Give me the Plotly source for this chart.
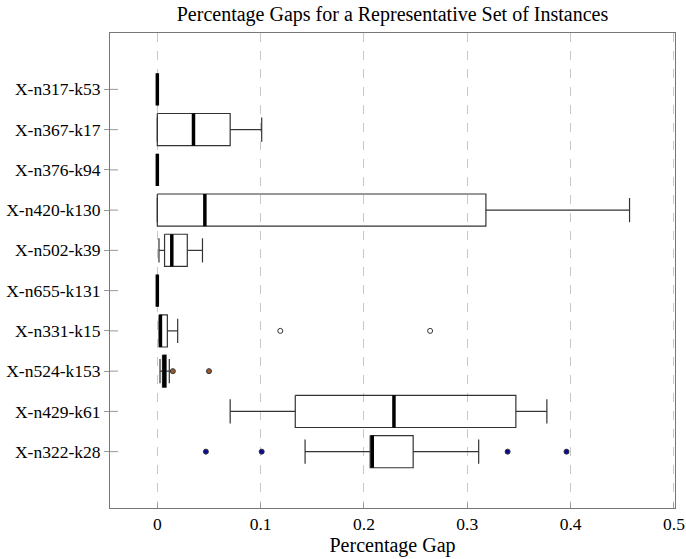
import plotly.graph_objects as go

categories = ["X-n317-k53", "X-n367-k17", "X-n376-k94", "X-n420-k130", "X-n502-k39",
              "X-n655-k131", "X-n331-k15", "X-n524-k153", "X-n429-k61", "X-n322-k28"]
lower_whisker = [0.0, 0.0, 0.0, 0.0, 0.0016, 0.0, 0.0020, 0.0026, 0.0705, 0.143]
q1 = [0.0, 0.0, 0.0, 0.0, 0.007, 0.0, 0.0020, 0.0050, 0.1335, 0.206]
median = [0.0, 0.035, 0.0, 0.046, 0.014, 0.0, 0.0030, 0.0068, 0.229, 0.208]
q3 = [0.0, 0.0705, 0.0, 0.318, 0.029, 0.0, 0.0097, 0.0085, 0.347, 0.2476]
upper_whisker = [0.0, 0.101, 0.0, 0.457, 0.0437, 0.0, 0.0197, 0.0116, 0.377, 0.311]
outliers = [[], [], [], [], [], [], [0.119, 0.264], [0.015, 0.050], [],
            [0.047, 0.101, 0.339, 0.396]]
outlier_colors = ["white", "white", "white", "white", "white", "white",
                  "white", "#9b5a2a", "white", "#0a0a9a"]
x_ticks = [0, 0.1, 0.2, 0.3, 0.4, 0.5]

FONT = "Liberation Serif"
FS_TICK = 17.5
FS_TITLE = 20
HALF = 0.4
CAP = 0.3
BOXCOL = "#333333"

fig = go.Figure()
for i, name in enumerate(categories):
    fig.add_trace(go.Scatter(
        x=[q1[i], q3[i], q3[i], q1[i], q1[i]],
        y=[i - HALF, i - HALF, i + HALF, i + HALF, i - HALF],
        mode="lines", line=dict(color=BOXCOL, width=1.2),
        hoverinfo="skip", showlegend=False))
    fig.add_trace(go.Scatter(
        x=[lower_whisker[i], q1[i], None, q3[i], upper_whisker[i], None,
           lower_whisker[i], lower_whisker[i], None, upper_whisker[i], upper_whisker[i]],
        y=[i, i, None, i, i, None, i - CAP, i + CAP, None, i - CAP, i + CAP],
        mode="lines", line=dict(color=BOXCOL, width=1.2),
        hoverinfo="skip", showlegend=False))
    fig.add_trace(go.Scatter(
        x=[median[i], median[i]], y=[i - HALF, i + HALF],
        mode="lines", line=dict(color="black", width=3.5),
        hoverinfo="skip", showlegend=False))
    if outliers[i]:
        fig.add_trace(go.Scatter(
            x=outliers[i], y=[i] * len(outliers[i]), mode="markers",
            marker=dict(size=5, color=outlier_colors[i],
                        line=dict(color="#333333", width=1)),
            hoverinfo="skip", showlegend=False))
    # inner half of the centred y tick mark
    fig.add_shape(type="line", xref="x domain", yref="y", x0=0, x1=8 / 565,
                  y0=i, y1=i, line=dict(color="#999999", width=1))

yrange = [len(categories) - 1 + 1.4, -1.4]
fig.update_layout(
    width=686, height=559,
    margin=dict(l=110, r=11, t=33, b=51),
    plot_bgcolor="white", paper_bgcolor="white",
    font=dict(family=FONT, size=FS_TICK, color="black"),
    title=dict(text="Percentage Gaps for a Representative Set of Instances",
               x=0.5, xanchor="center", xref="paper", y=1 - 14/559, yanchor="middle",
               font=dict(family=FONT, size=FS_TITLE, color="black"), automargin=False),
    xaxis=dict(range=[-0.0458, 0.501], tickvals=x_ticks,
               ticktext=[f"{v:g}" for v in x_ticks], automargin=False,
               showgrid=True, gridcolor="#c8c8c8", griddash="dash", gridwidth=1,
               zeroline=False, showline=True, linecolor="#777777", linewidth=1,
               mirror=True, ticks="inside", ticklen=5, tickcolor="#999999",
               tickfont=dict(size=FS_TICK),
               title=dict(text="Percentage Gap", standoff=2, font=dict(size=FS_TITLE))),
    yaxis=dict(range=yrange, tickvals=list(range(len(categories))),
               ticktext=categories, showgrid=False, zeroline=False, automargin=False,
               showline=True, linecolor="#777777", linewidth=1, mirror=True,
               ticks="outside", ticklen=5, tickcolor="#999999",
               tickfont=dict(size=FS_TICK)),
)

fig.write_html("out.html")
